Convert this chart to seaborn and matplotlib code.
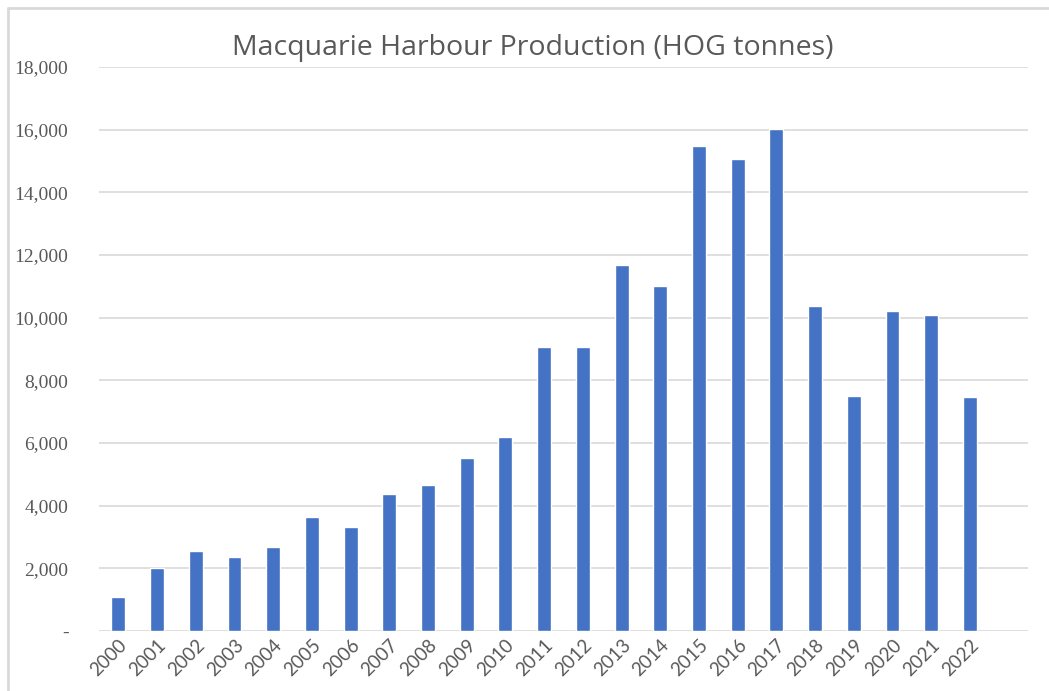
# Macquarie Harbour production bar chart

import seaborn as sns
import matplotlib.pyplot as plt
import pandas as pd
from matplotlib.lines import Line2D
from matplotlib.ticker import FuncFormatter

years = [str(y) for y in range(2000, 2023)]
tonnes = [1100, 2000, 2550, 2360, 2680, 3640, 3320, 4370, 4660, 5520, 6190,
          9060, 9060, 11680, 11010, 15480, 15060, 16020, 10370, 7500, 10210,
          10080, 7470]

df = pd.DataFrame({'year': years, 'tonnes': tonnes})

sns.set_style('white')
plt.rcParams['font.family'] = ['Lato', 'DejaVu Sans']

fig = plt.figure(figsize=(10.49, 6.91), dpi=100)
ax = fig.add_axes([99 / 1049, 1 - 631 / 691, 929 / 1049, 564 / 691])

sns.barplot(data=df, x='year', y='tonnes', color='#4472C4', width=0.36,
            saturation=1, ax=ax, zorder=3)

ax.set_xlim(-0.5, 23.5)
ax.set_ylim(0, 18000)
ax.set_yticks(range(0, 18001, 2000))
ax.yaxis.set_major_formatter(FuncFormatter(lambda v, p: '-' if v == 0 else f'{int(v):,}'))
ax.grid(axis='y', color='#d9d9d9', linewidth=1.2, zorder=0)
for s in ax.spines.values():
    s.set_visible(False)
ax.tick_params(axis='both', length=0)
ax.tick_params(axis='y', pad=22, labelsize=14, labelcolor='#595959')
ax.tick_params(axis='x', pad=4, labelsize=13.5, labelcolor='#595959')
for lab in ax.get_yticklabels():
    lab.set_family('Liberation Serif')
plt.setp(ax.get_xticklabels(), rotation=45, ha='right', rotation_mode='anchor')
ax.set_xlabel('')
ax.set_ylabel('')

fig.text(533 / 1049, 1 - 48 / 691, 'Macquarie Harbour Production (HOG tonnes)',
         ha='center', va='center', fontsize=20.5, color='#595959', family='Open Sans')

# chart frame (top and left edges visible in the screenshot)
fig.add_artist(Line2D([8 / 1049, 1], [1 - 8 / 691, 1 - 8 / 691], color='#d9d9d9', lw=2,
                      transform=fig.transFigure))
fig.add_artist(Line2D([8 / 1049, 8 / 1049], [0, 1 - 8 / 691], color='#d9d9d9', lw=2,
                      transform=fig.transFigure))

fig.savefig('out.png', dpi=100)
